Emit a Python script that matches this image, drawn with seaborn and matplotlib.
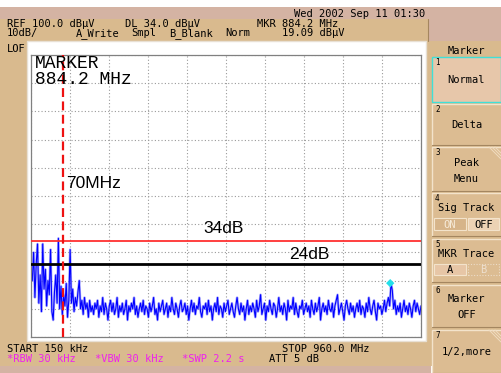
import numpy as np
import pandas as pd
import matplotlib
matplotlib.use("Agg")
import matplotlib.pyplot as plt
import seaborn as sns
from matplotlib.patches import Rectangle
from matplotlib.lines import Line2D

# ---------------- data ----------------
start_mhz = 0.15
stop_mhz = 960.0
ref_level_dbuv = 100.0
db_per_div = 10

trace_dbuv = [
    24, 20, 30, 14, 26, 33, 12, 22, 9, 33, 17, 24, 11, 20, 15, 31, 9, 6, 16, 22,
    12, 35, 10, 18, 8, 15, 11, 19, 7, 13, 31, 12, 17, 9, 14, 11, 16, 20, 10, 13,
    8, 14, 10, 12, 7, 13, 9, 11, 8, 12,
    10, 13, 7, 11, 9, 14, 8, 12, 10, 6, 11, 13, 9, 12, 8, 10, 14, 7, 11, 9,
    12, 8, 10, 13, 6, 11, 9, 12, 10, 14, 8, 11, 7, 10, 12, 9, 13, 8, 11, 10,
    7, 12, 9, 11, 14, 8, 10, 6, 12, 9, 11, 13, 8, 10, 12, 7, 11, 9, 14, 10,
    8, 12, 10, 7, 11, 13, 9, 10, 12, 8, 11, 6, 10, 13, 9, 12, 8, 11, 10, 14,
    9, 7, 11, 10, 12, 8, 13, 9, 11, 6, 10, 12, 9, 14, 8, 11, 10, 7, 12, 9,
    11, 13, 8, 10, 12, 9, 7, 11, 14, 10, 8, 12, 9, 11, 6, 10, 13, 8, 11, 9,
    12, 10, 7, 13, 9, 11, 15, 8, 10, 12, 6, 11, 9, 13, 10, 8, 12, 11, 7, 10,
    14, 9, 11, 8, 12, 10, 6, 13, 9, 11, 10, 14, 8, 12, 9, 7, 11, 10, 13, 8,
    10, 12, 9, 11, 7, 13, 10, 8, 12, 9, 11, 14, 6, 10, 12, 9, 11, 8, 13, 10,
    9, 12, 7, 11, 13, 15, 8, 10, 12, 9, 6, 11, 13, 10, 8, 12, 9, 11, 7, 10,
    12, 9, 13, 8, 11, 10, 7, 12, 9, 14, 10, 8, 11, 13, 9, 6, 12, 10, 11, 8,
    10, 13, 9, 12, 14, 11, 19.1, 16.5, 10, 13, 8, 11, 9, 12, 7, 10, 13, 9, 11, 8,
    12, 10, 7, 11, 13, 9, 12, 10, 8, 11,
]
trace_mhz = np.linspace(start_mhz, stop_mhz, len(trace_dbuv))

marker_mhz = 884.2
marker_dbuv = 19.09
red_line_dbuv = 34
black_line_dbuv = 26
cursor_mhz = 78

header_line1 = ["REF 100.0 dB\u00b5V", "DL 34.0 dB\u00b5V", "MKR 884.2 MHz"]
header_line2 = ["10dB/", "A_Write", "Smpl", "B_Blank", "Norm", "19.09 dB\u00b5V"]
date_text = "Wed 2002 Sep 11 01:30"
footer_black = ["START 150 kHz", "STOP 960.0 MHz", "ATT 5 dB"]
footer_magenta = ["*RBW 30 kHz", "*VBW 30 kHz", "*SWP 2.2 s"]
softkey_numbers = ["1", "2", "3", "4", "5", "6", "7"]
softkey_labels = [["Normal"], ["Delta"], ["Peak", "Menu"], ["Sig Track"],
                  ["MKR Trace"], ["Marker", "OFF"], ["1/2,more"]]

# ---------------- style ----------------
sns.set_theme(style="white")
plt.rcParams['font.family'] = ['DejaVu Sans Mono', 'DejaVu Sans']

W, H = 501, 373
fig = plt.figure(figsize=(W / 100, H / 100), dpi=100)
fig.patch.set_facecolor('white')

PINK = '#d4b3a3'
TAN = '#d9ba8e'
BTN = '#dcbc92'
LIGHT = '#f3e3cb'
DARK = '#a48660'


def rect(x0, y0, x1, y1, fc, ec='none', lw=0, ls='-'):
    r = Rectangle((x0 / W, 1 - y1 / H), (x1 - x0) / W, (y1 - y0) / H,
                  transform=fig.transFigure, facecolor=fc, edgecolor=ec,
                  linewidth=lw, linestyle=ls, zorder=-2)
    fig.add_artist(r)


def line(xs, ys, color, lw=1.0, ls='-'):
    fig.add_artist(Line2D([x / W for x in xs], [1 - y / H for y in ys],
                          transform=fig.transFigure, color=color, lw=lw, ls=ls,
                          zorder=-1))


def txt(x, y, s, size=7.5, color='black', ha='left', family=None, va='baseline', **kw):
    fig.text(x / W, 1 - y / H, s, fontsize=size, color=color, ha=ha,
             va=va, family=family or ['DejaVu Sans Mono'], zorder=10, **kw)


# background frame
rect(0, 7, 501, 19, PINK)
rect(0, 19, 428, 41, TAN)
rect(428, 19, 501, 41, PINK)
rect(0, 41, 501, 366, TAN)
rect(0, 366, 431, 373, PINK)
line([428, 428], [19, 41], DARK, 0.8)
rect(27, 41, 426, 341, 'white', ec='#e8e0d4', lw=1.0)

# header texts
txt(294, 17, date_text)
for s, x in zip(header_line1, [7, 125, 257]):
    txt(x, 27, s)
for s, x in zip(header_line2, [7, 76, 131, 169, 225, 282]):
    txt(x, 36, s)
txt(7, 52, "LOF")

# footer texts
txt(7, 352, footer_black[0])
txt(282, 352, footer_black[1])
txt(269, 362, footer_black[2])
for s, x in zip(footer_magenta, [7, 95, 182]):
    txt(x, 362, s, color='#ee22ee')

# softkey panel
txt(466, 53.5, "Marker", ha='center')
btn_rows = [(57, 102), (104, 145), (147, 191), (193, 236), (239, 282), (285, 327), (330, 373)]
label_y = [[83], [128], [166, 181.5], [211], [257], [302, 318], [355.5]]
for k, ((y0, y1), num, labs, ys) in enumerate(zip(btn_rows, softkey_numbers, softkey_labels, label_y)):
    if k == 0:
        rect(432, y0, 501, y1, '#e7c7aa', ec='#3fe0d8', lw=1.0)
    else:
        rect(432, y0, 501, y1, BTN)
        line([432, 432, 501], [y1, y0, y0], LIGHT, 1.0)
        line([432, 501], [y1, y1], DARK, 0.8)
    txt(435, y0 + 8, num, size=5.5)
    for s, yy in zip(labs, ys):
        txt(466.5, yy, s, ha='center')
    if k in (2, 6):
        for d in (0, 3, 6):
            line([489 + d, 501], [y0, y0 + 12 - d], '#f0dcc0', 0.7)

# Sig Track ON/OFF
rect(434, 218, 466, 230, '#d6b489', ec=LIGHT, lw=0.8)
txt(450, 227.5, "ON", ha='center', color='#f6ead8')
rect(468, 218, 499, 230, '#ecd2b4', ec=LIGHT, lw=0.8)
txt(483.5, 227.5, "OFF", ha='center')
# MKR Trace A/B
rect(434, 264, 466, 275, '#e7c6a6', ec=LIGHT, lw=0.8)
txt(450, 273, "A", ha='center')
rect(468, 264, 499, 275, 'none', ec='#ecdcc8', lw=0.8, ls=(0, (1, 1.5)))
txt(483.5, 273, "B", ha='center', color='#eee0d0')

# ---------------- main axes ----------------
ax = fig.add_axes([31 / W, 1 - 337 / H, 390 / W, 282 / H])
ax.set_zorder(2)
ax.set_facecolor('white')
df = pd.DataFrame({'freq': trace_mhz, 'level': trace_dbuv})
sns.lineplot(data=df, x='freq', y='level', ax=ax, color='#7a7aff', lw=1.8,
             alpha=0.6, estimator=None)
sns.lineplot(data=df, x='freq', y='level', ax=ax, color='#0000ff', lw=0.8,
             estimator=None)

ax.axhline(red_line_dbuv, color='#ff3030', lw=1.3, zorder=4)
ax.axhline(black_line_dbuv, color='black', lw=2.0, zorder=4)
ax.axvline(cursor_mhz, color='#ee1111', lw=1.6, dashes=(4, 2), zorder=5)
sns.scatterplot(x=[marker_mhz], y=[marker_dbuv], ax=ax, marker='D', s=18,
                color='#22e0ea', edgecolor='none', zorder=6)

ax.set_xlim(start_mhz, stop_mhz)
ax.set_ylim(ref_level_dbuv - 10 * db_per_div, ref_level_dbuv)
ax.set_xticks(np.linspace(start_mhz, stop_mhz, 11))
ax.set_yticks(np.arange(ref_level_dbuv - 10 * db_per_div, ref_level_dbuv + 1, db_per_div))
ax.tick_params(length=0, labelbottom=False, labelleft=False)
ax.set_xlabel('')
ax.set_ylabel('')
ax.grid(True, color='#9a9a9a', linestyle=(0, (1, 2)), linewidth=0.8)
for sp in ax.spines.values():
    sp.set_color('#808080')
    sp.set_linewidth(0.9)

# annotations inside plot
txt(35, 55, "MARKER\n884.2 MHz", size=13, family=['Liberation Mono'],
    va='top', linespacing=0.95)
txt(66, 188, "70MHz", size=12.5, family=['Liberation Sans'])
txt(203, 233, "34dB", size=12.5, family=['Liberation Sans'])
txt(289, 259, "24dB", size=12.5, family=['Liberation Sans'])

fig.savefig('out.png', dpi=100, facecolor=fig.get_facecolor())
